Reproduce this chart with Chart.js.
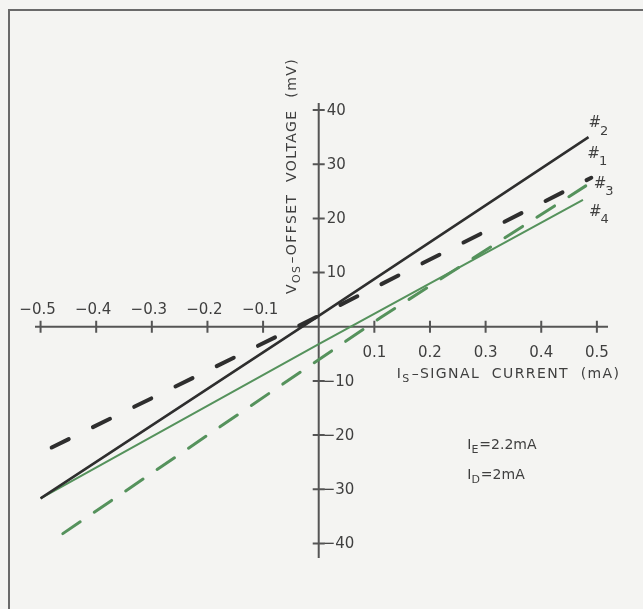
<!DOCTYPE html>
<html>
<head>
<meta charset="utf-8">
<title>Offset voltage vs signal current</title>
<script src="https://cdn.jsdelivr.net/npm/chart.js@4.4.1/dist/chart.umd.min.js"></script>
<style>
  html, body { margin: 0; padding: 0; background: #f4f4f2; }
  #wrap { width: 643px; height: 609px; }
</style>
</head>
<body>
<div id="wrap"><canvas id="chart" width="643" height="609"></canvas></div>
<script>
// V_OS vs I_S for four devices (#1..#4).
const X_TICKS = [-0.5, -0.4, -0.3, -0.2, -0.1, 0.1, 0.2, 0.3, 0.4, 0.5];
const X_TICK_LABELS = ["\u22120.5", "\u22120.4", "\u22120.3", "\u22120.2", "\u22120.1", "0.1", "0.2", "0.3", "0.4", "0.5"];
const Y_TICKS = [40, 30, 20, 10, -10, -20, -30, -40];
const Y_TICK_LABELS = ["40", "30", "20", "10", "\u221210", "\u221220", "\u221230", "\u221240"];

// I_S (mA) / V_OS (mV) per device
const DEV2_X = [-0.5, 0, 0.485];
const DEV2_Y = [-31.7, 2, 35];
const DEV1_X = [-0.48, 0, 0.49];
const DEV1_Y = [-22.3, 2, 27.5];
const DEV3_X = [-0.46, 0.11, 0.48];
const DEV3_Y = [-38.2, 1.6, 26];
const DEV4_X = [-0.5, 0, 0.475];
const DEV4_Y = [-31.7, -3.2, 23.4];

const NOTE_LINES = [["I", "E", "=2.2mA"], ["I", "D", "=2mA"]];
const NOTE_AT_X = [0.267, 0.267];
const NOTE_AT_Y = [-21.9, -27.4];

const INK = "#2e2e2e";
const GREEN = "#55925c";
const TEXT = "#3f3f3f";
const AXIS = "#555555";
const PAPER = "#f4f4f2";
const FONT = "'DejaVu Sans', sans-serif";

function pts(xs, ys) {
  return xs.map((x, i) => ({ x, y: ys[i] }));
}

// Draws a run of text pieces; odd-indexed pieces are subscripts.
function drawRun(ctx, pieces, x, y, size) {
  let cx = x;
  pieces.forEach((p, i) => {
    const sub = i % 2 === 1;
    ctx.font = `${sub ? Math.round(size * 0.8) : size}px ${FONT}`;
    ctx.fillText(p, cx, sub ? y + size * 0.35 : y);
    cx += ctx.measureText(p).width + (sub ? 1 : 0);
  });
  return cx - x;
}

function runWidth(ctx, pieces, size) {
  let w = 0;
  pieces.forEach((p, i) => {
    const sub = i % 2 === 1;
    ctx.font = `${sub ? Math.round(size * 0.8) : size}px ${FONT}`;
    w += ctx.measureText(p).width + (sub ? 1 : 0);
  });
  return w;
}

const paper = {
  id: "paper",
  beforeDraw(chart) {
    const { ctx, width, height } = chart;
    ctx.save();
    ctx.fillStyle = PAPER;
    ctx.fillRect(0, 0, width, height);
    // only the top and left frame edges show in the scan
    ctx.strokeStyle = "#6a6a6a";
    ctx.lineWidth = 2;
    ctx.beginPath();
    ctx.moveTo(9, height);
    ctx.lineTo(9, 10);
    ctx.lineTo(width, 10);
    ctx.stroke();
    ctx.restore();
  }
};

// Axes cross at the origin, with "+" style ticks and labels on both sides.
const crossAxes = {
  id: "crossAxes",
  beforeDatasetsDraw(chart) {
    const { ctx, chartArea: a } = chart;
    const xs = chart.scales.x;
    const ys = chart.scales.y;
    const ox = xs.getPixelForValue(0);
    const oy = ys.getPixelForValue(0);
    ctx.save();
    ctx.strokeStyle = AXIS;
    ctx.lineWidth = 2;
    ctx.beginPath();
    ctx.moveTo(a.left, oy);
    ctx.lineTo(a.right, oy);
    ctx.moveTo(ox, a.top);
    ctx.lineTo(ox, a.bottom);
    X_TICKS.forEach((v) => {
      const px = xs.getPixelForValue(v);
      ctx.moveTo(px, oy - 6);
      ctx.lineTo(px, oy + 6);
    });
    Y_TICKS.forEach((v) => {
      const py = ys.getPixelForValue(v);
      ctx.moveTo(ox - 6, py);
      ctx.lineTo(ox + 6, py);
    });
    ctx.stroke();

    ctx.fillStyle = TEXT;
    ctx.font = `15px ${FONT}`;
    ctx.textBaseline = "alphabetic";
    ctx.textAlign = "center";
    X_TICKS.forEach((v, i) => {
      const px = xs.getPixelForValue(v);
      ctx.fillText(X_TICK_LABELS[i], px - (v < 0 ? 3 : 0), v < 0 ? oy - 13 : oy + 30);
    });
    ctx.textAlign = "left";
    ctx.textBaseline = "middle";
    Y_TICKS.forEach((v, i) => {
      const py = ys.getPixelForValue(v);
      ctx.fillText(Y_TICK_LABELS[i], ox + (v < 0 ? 4 : 8), py + 1);
    });

    // axis titles
    ctx.textBaseline = "middle";
    ctx.letterSpacing = "1.4px";
    const yTitle = ["V", "OS", "\u2013OFFSET  VOLTAGE  (mV)"];
    const yw = runWidth(ctx, yTitle, 14);
    ctx.save();
    ctx.translate(ox - 26, 176);
    ctx.rotate(-Math.PI / 2);
    drawRun(ctx, yTitle, -yw / 2, 0, 14);
    ctx.restore();

    const xTitle = ["I", "S", "\u2013SIGNAL  CURRENT  (mA)"];
    drawRun(ctx, xTitle, ox + 78, oy + 48, 14);
    ctx.letterSpacing = "0px";

    // operating point note
    NOTE_LINES.forEach((line, i) => {
      drawRun(ctx, line, xs.getPixelForValue(NOTE_AT_X[i]), ys.getPixelForValue(NOTE_AT_Y[i]), 14);
    });
    ctx.restore();
  }
};

// "#n" tags next to the right-hand end of each trace.
const endTags = {
  id: "endTags",
  afterDatasetsDraw(chart) {
    const { ctx } = chart;
    const offs = { "2": [0, -14], "1": [-4, -24], "3": [8, -2], "4": [6, 12] };
    ctx.save();
    ctx.fillStyle = TEXT;
    ctx.textBaseline = "middle";
    ctx.textAlign = "left";
    chart.data.datasets.forEach((ds, i) => {
      const meta = chart.getDatasetMeta(i);
      const end = meta.data[meta.data.length - 1];
      const [dx, dy] = offs[ds.label];
      ctx.font = `italic 15px ${FONT}`;
      ctx.fillText("#", end.x + dx, end.y + dy);
      const w = ctx.measureText("#").width;
      ctx.font = `13px ${FONT}`;
      ctx.fillText(ds.label, end.x + dx + w - 1, end.y + dy + 8);
    });
    ctx.restore();
  }
};

function series(label, xs, ys, color, width, dash) {
  return {
    label,
    data: pts(xs, ys),
    borderColor: color,
    borderWidth: width,
    borderDash: dash,
    borderCapStyle: dash.length ? "round" : "butt",
    pointRadius: 0,
    tension: 0,
    fill: false
  };
}

new Chart(document.getElementById("chart").getContext("2d"), {
  type: "line",
  data: {
    datasets: [
      series("2", DEV2_X, DEV2_Y, INK, 2.5, []),
      series("1", DEV1_X, DEV1_Y, INK, 4, [19, 27]),
      series("4", DEV4_X, DEV4_Y, GREEN, 2, []),
      series("3", DEV3_X, DEV3_Y, GREEN, 3, [21, 17])
    ]
  },
  options: {
    responsive: false,
    animation: false,
    devicePixelRatio: 1,
    layout: { padding: { left: 35, right: 35, top: 103, bottom: 51 } },
    scales: {
      x: { type: "linear", min: -0.51, max: 0.52, display: false },
      y: { type: "linear", min: -42.7, max: 41.3, display: false }
    },
    plugins: {
      legend: { display: false },
      tooltip: { enabled: false }
    }
  },
  plugins: [paper, crossAxes, endTags]
});
</script>
</body>
</html>
